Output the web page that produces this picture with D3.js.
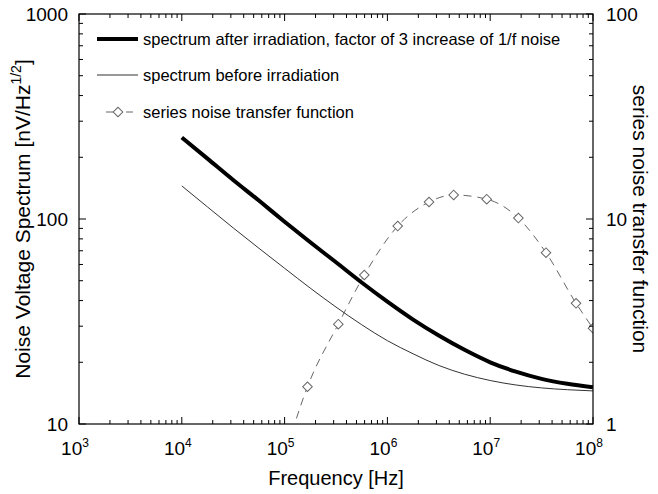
<!DOCTYPE html>
<html><head><meta charset="utf-8">
<script src="https://cdn.jsdelivr.net/npm/d3@7/dist/d3.min.js"></script>
<style>
body{margin:0;background:#fff;}
text{font-family:"Liberation Sans",Arial,sans-serif;fill:#000;}
</style></head>
<body><svg id="c" width="658" height="494"></svg>
<script>
// ---- data ----
const freqs = [1e4, 1.778e4, 3.162e4, 5.623e4, 1e5, 1.778e5, 3.162e5, 5.623e5, 1e6, 1.778e6, 3.162e6, 5.623e6, 1e7, 1.778e7, 3.162e7, 5.623e7, 1e8];
const afterIrr = [250, 197, 155, 123, 97, 77, 61.5, 49, 39.5, 32.3, 27, 23, 20, 18, 16.6, 15.7, 15.1];
const beforeIrr = [145, 114.5, 90.5, 72, 57.5, 46, 37.2, 30.5, 25.5, 22, 19.3, 17.5, 16.3, 15.5, 15.0, 14.7, 14.5];
const tfFreq = [8.3e4, 1.67e5, 3.33e5, 5.96e5, 1.26e6, 2.54e6, 4.41e6, 9.25e6, 1.88e7, 3.49e7, 6.84e7, 1.0e8];
const tfValue = [0.5, 1.52, 3.07, 5.33, 9.24, 12.1, 13.1, 12.5, 10.1, 6.85, 3.88, 2.93];
const xTickExps = [3, 4, 5, 6, 7, 8];
const yLeftTicks = [10, 100, 1000];
const yRightTicks = [1, 10, 100];
const legendLabels = ["spectrum after irradiation, factor of 3 increase of 1/f noise", "spectrum before irradiation", "series noise transfer function"];

const svg = d3.select("#c");
const L = 79, R = 593, T = 14, B = 424;
const x = d3.scaleLog().domain([1e3, 1e8]).range([L, R]);
const yL = d3.scaleLog().domain([10, 1000]).range([B, T]);
const yR = d3.scaleLog().domain([1, 100]).range([B, T]);

svg.append("defs").append("clipPath").attr("id", "clip")
  .append("rect").attr("x", L).attr("y", T).attr("width", R - L).attr("height", B - T);

const g = svg.append("g").attr("clip-path", "url(#clip)");

// dashed transfer function
const tfData = tfFreq.map((f, i) => [f, tfValue[i]]);
g.append("path").datum(tfData)
  .attr("d", d3.line().x(d => x(d[0])).y(d => yR(d[1])).curve(d3.curveMonotoneX))
  .attr("fill", "none").attr("stroke", "#666").attr("stroke-width", 1).attr("stroke-dasharray", "8,6");
g.selectAll(".dm").data(tfData.slice(1)).join("path")
  .attr("d", d3.symbol().type(d3.symbolSquare).size(46))
  .attr("transform", d => `translate(${x(d[0])},${yR(d[1])}) rotate(45)`)
  .attr("fill", "#fff").attr("stroke", "#666").attr("stroke-width", 1);

// spectra
const specLine = d3.line().x((d, i) => x(freqs[i])).y(d => yL(d)).curve(d3.curveMonotoneX);
g.append("path").datum(beforeIrr).attr("d", specLine)
  .attr("fill", "none").attr("stroke", "#333").attr("stroke-width", 1);
g.append("path").datum(afterIrr).attr("d", specLine)
  .attr("fill", "none").attr("stroke", "#000").attr("stroke-width", 4);

// axes frame
svg.append("rect").attr("x", L).attr("y", T).attr("width", R - L).attr("height", B - T)
  .attr("fill", "none").attr("stroke", "#000").attr("stroke-width", 1.2);

// ticks (inward)
function minorLog(domain) {
  const out = [];
  for (let e = Math.log10(domain[0]); e < Math.log10(domain[1]); e++)
    for (let k = 2; k <= 9; k++) out.push(k * Math.pow(10, e));
  return out;
}
const xMaj = xTickExps.map(e => Math.pow(10, e));
const xMin = minorLog([1e3, 1e8]);
const tk = svg.append("g").attr("stroke", "#000").attr("stroke-width", 1);
xMaj.forEach(v => {
  tk.append("line").attr("x1", x(v)).attr("x2", x(v)).attr("y1", B).attr("y2", B - 7);
  tk.append("line").attr("x1", x(v)).attr("x2", x(v)).attr("y1", T).attr("y2", T + 7);
});
xMin.forEach(v => {
  tk.append("line").attr("x1", x(v)).attr("x2", x(v)).attr("y1", B).attr("y2", B - 4);
  tk.append("line").attr("x1", x(v)).attr("x2", x(v)).attr("y1", T).attr("y2", T + 4);
});
yLeftTicks.forEach(v => tk.append("line").attr("x1", L).attr("x2", L + 7).attr("y1", yL(v)).attr("y2", yL(v)));
minorLog([10, 1000]).forEach(v => tk.append("line").attr("x1", L).attr("x2", L + 4).attr("y1", yL(v)).attr("y2", yL(v)));
yRightTicks.forEach(v => tk.append("line").attr("x1", R).attr("x2", R - 7).attr("y1", yR(v)).attr("y2", yR(v)));
minorLog([1, 100]).forEach(v => tk.append("line").attr("x1", R).attr("x2", R - 4).attr("y1", yR(v)).attr("y2", yR(v)));

// tick labels
const fs = 19;
xTickExps.forEach(e => {
  const t = svg.append("text").attr("x", x(Math.pow(10, e)) - 4).attr("y", 455)
    .attr("text-anchor", "middle").attr("font-size", fs);
  t.append("tspan").text("10");
  t.append("tspan").attr("dy", -8).attr("font-size", 12).text(e);
});
yLeftTicks.forEach(v => svg.append("text").attr("x", 68).attr("y", yL(v) + 7)
  .attr("text-anchor", "end").attr("font-size", fs).text(v));
yRightTicks.forEach(v => svg.append("text").attr("x", 606).attr("y", yR(v) + 7)
  .attr("text-anchor", "start").attr("font-size", fs).text(v));

// axis titles
svg.append("text").attr("x", 336).attr("y", 485).attr("text-anchor", "middle")
  .attr("font-size", 20).text("Frequency [Hz]");
const lt = svg.append("text").attr("transform", `translate(30,${(T + B) / 2}) rotate(-90)`)
  .attr("text-anchor", "middle").attr("font-size", 21);
lt.append("tspan").text("Noise Voltage Spectrum [nV/Hz");
lt.append("tspan").attr("dy", -9).attr("font-size", 14).text("1/2");
lt.append("tspan").attr("dy", 9).text("]");
svg.append("text").attr("transform", `translate(633,${(T + B) / 2}) rotate(90)`)
  .attr("text-anchor", "middle").attr("font-size", 21).text("series noise transfer function");

// legend
const ly = [39, 75, 112];
svg.append("line").attr("x1", 97).attr("x2", 138).attr("y1", ly[0]).attr("y2", ly[0]).attr("stroke", "#000").attr("stroke-width", 4);
svg.append("line").attr("x1", 97).attr("x2", 138).attr("y1", ly[1]).attr("y2", ly[1]).attr("stroke", "#333").attr("stroke-width", 1);
svg.append("line").attr("x1", 106).attr("x2", 133).attr("y1", ly[2]).attr("y2", ly[2]).attr("stroke", "#666").attr("stroke-width", 1).attr("stroke-dasharray", "7,13");
svg.append("path").attr("d", d3.symbol().type(d3.symbolSquare).size(46))
  .attr("transform", `translate(118,${ly[2]}) rotate(45)`).attr("fill", "#fff").attr("stroke", "#666");
legendLabels.forEach((s, i) => svg.append("text").attr("x", 143).attr("y", ly[i] + 6)
  .attr("font-size", 16.5).text(s));
</script></body></html>
